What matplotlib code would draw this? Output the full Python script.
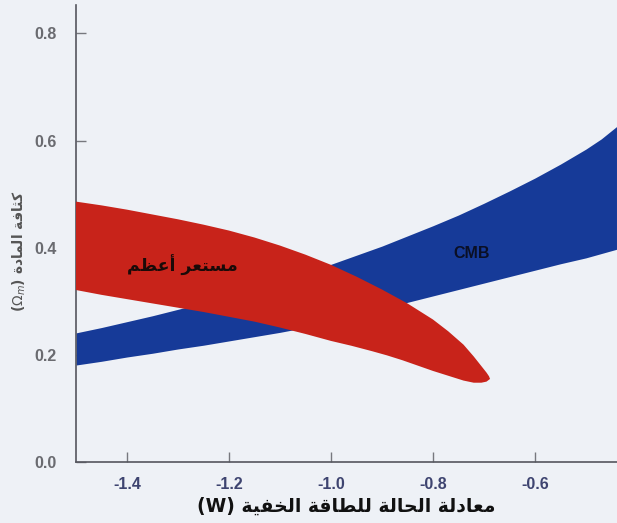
import matplotlib
matplotlib.use("Agg")
import matplotlib.pyplot as plt

# ---------------- data ----------------
# CMB band (blue): lower / upper edges on a common x grid
cmb_x = [-1.50, -1.45, -1.40, -1.35, -1.30, -1.25, -1.20, -1.15, -1.10, -1.05, -1.00,
         -0.95, -0.90, -0.85, -0.80, -0.75, -0.70, -0.65, -0.60, -0.55, -0.50, -0.47, -0.44]
cmb_low = [0.181, 0.188, 0.196, 0.203, 0.211, 0.218, 0.226, 0.234, 0.242, 0.251, 0.262,
           0.274, 0.286, 0.298, 0.310, 0.322, 0.334, 0.346, 0.358, 0.370, 0.381, 0.389, 0.397]
cmb_up = [0.241, 0.251, 0.262, 0.273, 0.285, 0.297, 0.310, 0.324, 0.338, 0.353, 0.369,
          0.386, 0.403, 0.422, 0.441, 0.461, 0.483, 0.506, 0.530, 0.556, 0.584, 0.603, 0.626]

# Supernova band (red): upper edge left->tip, lower edge tip->left
sn_top_x = [-1.50, -1.45, -1.40, -1.35, -1.30, -1.25, -1.20, -1.15, -1.10, -1.05, -1.00,
            -0.95, -0.90, -0.85, -0.80, -0.77, -0.74, -0.72, -0.705, -0.695, -0.690]
sn_top_y = [0.486, 0.479, 0.471, 0.462, 0.453, 0.443, 0.432, 0.419, 0.404, 0.387, 0.368,
            0.346, 0.322, 0.296, 0.266, 0.244, 0.219, 0.197, 0.179, 0.167, 0.160]
sn_bot_x = [-0.688, -0.695, -0.705, -0.72, -0.74, -0.76, -0.78, -0.80, -0.83, -0.86, -0.89,
            -0.92, -0.96, -1.00, -1.05, -1.10, -1.15, -1.20, -1.25, -1.30, -1.35, -1.40,
            -1.45, -1.50]
sn_bot_y = [0.155, 0.150, 0.148, 0.148, 0.152, 0.158, 0.164, 0.170, 0.180, 0.190, 0.199,
            0.207, 0.217, 0.226, 0.239, 0.251, 0.262, 0.271, 0.280, 0.288, 0.296, 0.304,
            0.312, 0.321]

x_ticks = [-1.4, -1.2, -1.0, -0.8, -0.6]
x_ticklabels = ["-1.4", "-1.2", "-1.0", "-0.8", "-0.6"]
y_ticks = [0.0, 0.2, 0.4, 0.6, 0.8]
y_ticklabels = ["0.0", "0.2", "0.4", "0.6", "0.8"]

xlabel_ar = "معادلة الحالة للطاقة الخفية"
ylabel_ar = "كثافة المادة"
sn_label = "مستعر أعظم"
cmb_label = "CMB"

# ---------------- Arabic shaping helper ----------------
FORMS = {
    'ا': ('\uFE8D', '\uFE8E', None, None),
    'أ': ('\uFE83', '\uFE84', None, None),
    'ة': ('\uFE93', '\uFE94', None, None),
    'ت': ('\uFE95', '\uFE96', '\uFE97', '\uFE98'),
    'ث': ('\uFE99', '\uFE9A', '\uFE9B', '\uFE9C'),
    'ح': ('\uFEA1', '\uFEA2', '\uFEA3', '\uFEA4'),
    'خ': ('\uFEA5', '\uFEA6', '\uFEA7', '\uFEA8'),
    'د': ('\uFEA9', '\uFEAA', None, None),
    'ر': ('\uFEAD', '\uFEAE', None, None),
    'س': ('\uFEB1', '\uFEB2', '\uFEB3', '\uFEB4'),
    'ط': ('\uFEC1', '\uFEC2', '\uFEC3', '\uFEC4'),
    'ظ': ('\uFEC5', '\uFEC6', '\uFEC7', '\uFEC8'),
    'ع': ('\uFEC9', '\uFECA', '\uFECB', '\uFECC'),
    'ف': ('\uFED1', '\uFED2', '\uFED3', '\uFED4'),
    'ق': ('\uFED5', '\uFED6', '\uFED7', '\uFED8'),
    'ك': ('\uFED9', '\uFEDA', '\uFEDB', '\uFEDC'),
    'ل': ('\uFEDD', '\uFEDE', '\uFEDF', '\uFEE0'),
    'م': ('\uFEE1', '\uFEE2', '\uFEE3', '\uFEE4'),
    'ي': ('\uFEF1', '\uFEF2', '\uFEF3', '\uFEF4'),
}


def ar(s):
    out = []
    for i, c in enumerate(s):
        if c not in FORMS:
            out.append(c)
            continue
        prev = s[i - 1] if i > 0 else ''
        nxt = s[i + 1] if i + 1 < len(s) else ''
        jp = prev in FORMS and FORMS[prev][2] is not None
        jn = FORMS[c][2] is not None and nxt in FORMS
        iso, fin, ini, med = FORMS[c]
        if jp and jn:
            out.append(med)
        elif jp:
            out.append(fin)
        elif jn:
            out.append(ini)
        else:
            out.append(iso)
    return ''.join(out)[::-1]


# ---------------- figure ----------------
BG = "#eef1f6"
RED = "#c8231a"
BLUE = "#163a98"

fig = plt.figure(figsize=(6.17, 5.23), dpi=100, facecolor=BG)
ax = fig.add_axes([76 / 617, 1 - 462 / 523, (617 - 76) / 617, (462 - 5) / 523])
ax.set_facecolor(BG)

ax.fill_between(cmb_x, cmb_low, cmb_up, color=BLUE, linewidth=0, zorder=2)
ax.fill(sn_top_x + sn_bot_x, sn_top_y + sn_bot_y, color=RED, linewidth=0, zorder=3)

ax.text(-1.292, 0.366, ar(sn_label), ha="center", va="center", fontsize=12.5,
        fontweight="bold", color="#1a0a08", family="DejaVu Sans", zorder=4)
ax.text(-0.724, 0.39, cmb_label, ha="center", va="center", fontsize=11.5,
        fontweight="bold", color="#0a0f25", family="Liberation Sans", zorder=4)

ax.set_xlim(-1.5, -0.439)
ax.set_ylim(0, 0.853)

for s in ("top", "right"):
    ax.spines[s].set_visible(False)
for s in ("left", "bottom"):
    ax.spines[s].set_color("#55565e")
    ax.spines[s].set_linewidth(1.2)

ax.set_xticks(x_ticks)
ax.set_xticklabels(x_ticklabels, fontsize=11.5, fontweight="bold",
                   color="#3e4470", family="Liberation Sans")
ax.set_yticks(y_ticks)
ax.set_yticklabels(y_ticklabels, fontsize=11.5, fontweight="bold",
                   color="#6a6b70", family="Liberation Sans")
ax.tick_params(axis="both", direction="in", length=7, width=1, color="#77787e")
ax.tick_params(axis="x", pad=11)
ax.tick_params(axis="y", pad=14)

ax.set_xlabel("(W) " + ar(xlabel_ar), fontsize=13.5, color="#111111",
              family="DejaVu Sans", fontweight="bold", labelpad=3)
ax.set_ylabel(r"($\Omega_m$) " + ar(ylabel_ar), fontsize=10, color="#555555",
              family="DejaVu Sans", fontweight="bold")
ax.yaxis.set_label_coords(-0.088, 0.46)

fig.savefig("out.png", dpi=100, facecolor=BG)
